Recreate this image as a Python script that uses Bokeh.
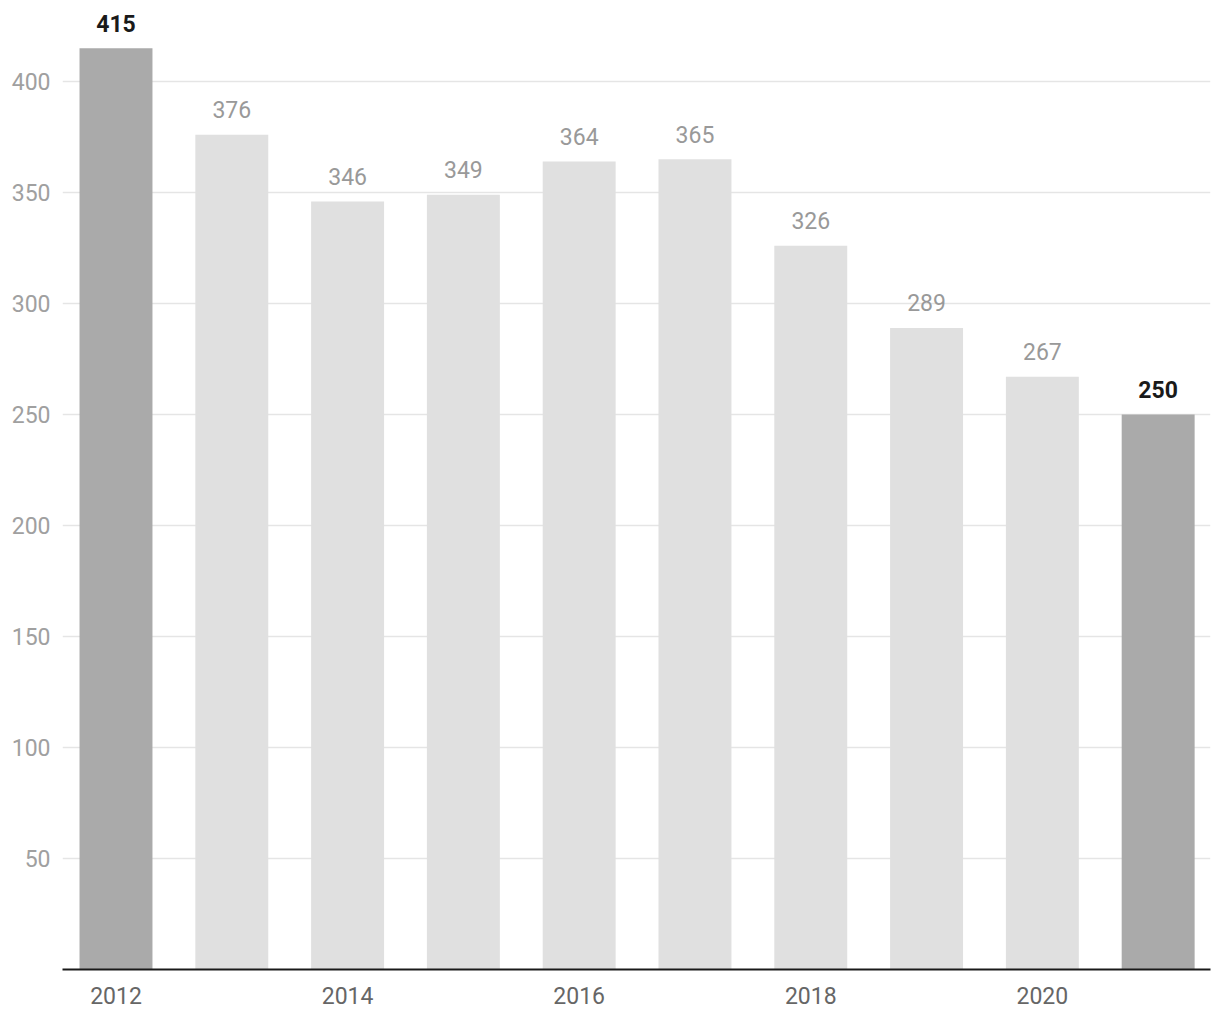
from bokeh.plotting import figure
from bokeh.models import ColumnDataSource, Range1d, FixedTicker
from bokeh.core.properties import value
from bokeh.embed import file_html
from bokeh.resources import INLINE

years = [2012, 2013, 2014, 2015, 2016, 2017, 2018, 2019, 2020, 2021]
counts = [415, 376, 346, 349, 364, 365, 326, 289, 267, 250]
highlight = [True, False, False, False, False, False, False, False, False, True]
x_ticks = [2012, 2014, 2016, 2018, 2020]
y_ticks = [50, 100, 150, 200, 250, 300, 350, 400]

FONT = "Roboto"

bar_colors = ["#aaaaaa" if h else "#e0e0e0" for h in highlight]
label_colors = ["#1a1a1a" if h else "#999999" for h in highlight]
label_styles = ["bold" if h else "normal" for h in highlight]

src = ColumnDataSource(dict(
    x=years, top=counts, label=[str(c) for c in counts],
    color=bar_colors, lcolor=label_colors, lstyle=label_styles,
))

p = figure(width=1220, height=1020, output_backend="svg", toolbar_location=None,
           x_range=Range1d(2011.538, 2021.452), y_range=Range1d(0, 436.5),
           min_border_left=62, min_border_right=10, min_border_top=0, min_border_bottom=51)
p.outline_line_color = None
p.background_fill_color = "white"
p.border_fill_color = "white"

p.vbar(x="x", top="top", width=0.63, bottom=0, source=src, fill_color="color", line_color=None)

p.text(x="x", y="top", text="label", source=src, text_align="center",
       text_baseline="alphabetic", y_offset=-25, text_color="lcolor",
       text_font=value(FONT), text_font_size="23px", text_font_style="lstyle")

# x axis
p.xaxis.ticker = FixedTicker(ticks=x_ticks)
p.xaxis.axis_line_color = "#1a1a1a"
p.xaxis.axis_line_width = 2
p.xaxis.major_tick_line_color = None
p.xaxis.minor_tick_line_color = None
p.xaxis.major_label_text_font = FONT
p.xaxis.major_label_text_font_size = "23px"
p.xaxis.major_label_text_color = "#666666"
p.xaxis.major_label_standoff = 11

# y axis
p.yaxis.ticker = FixedTicker(ticks=y_ticks)
p.yaxis.axis_line_color = None
p.yaxis.major_tick_line_color = None
p.yaxis.minor_tick_line_color = None
p.yaxis.major_label_text_font = FONT
p.yaxis.major_label_text_font_size = "23px"
p.yaxis.major_label_text_color = "#a0a0a0"
p.yaxis.major_label_standoff = 6

p.xgrid.grid_line_color = None
p.ygrid.ticker = FixedTicker(ticks=y_ticks)
p.ygrid.grid_line_color = "#e5e5e5"
p.ygrid.grid_line_width = 1.5
p.ygrid.level = "underlay"

open("out.html", "w").write(file_html(p, INLINE))
